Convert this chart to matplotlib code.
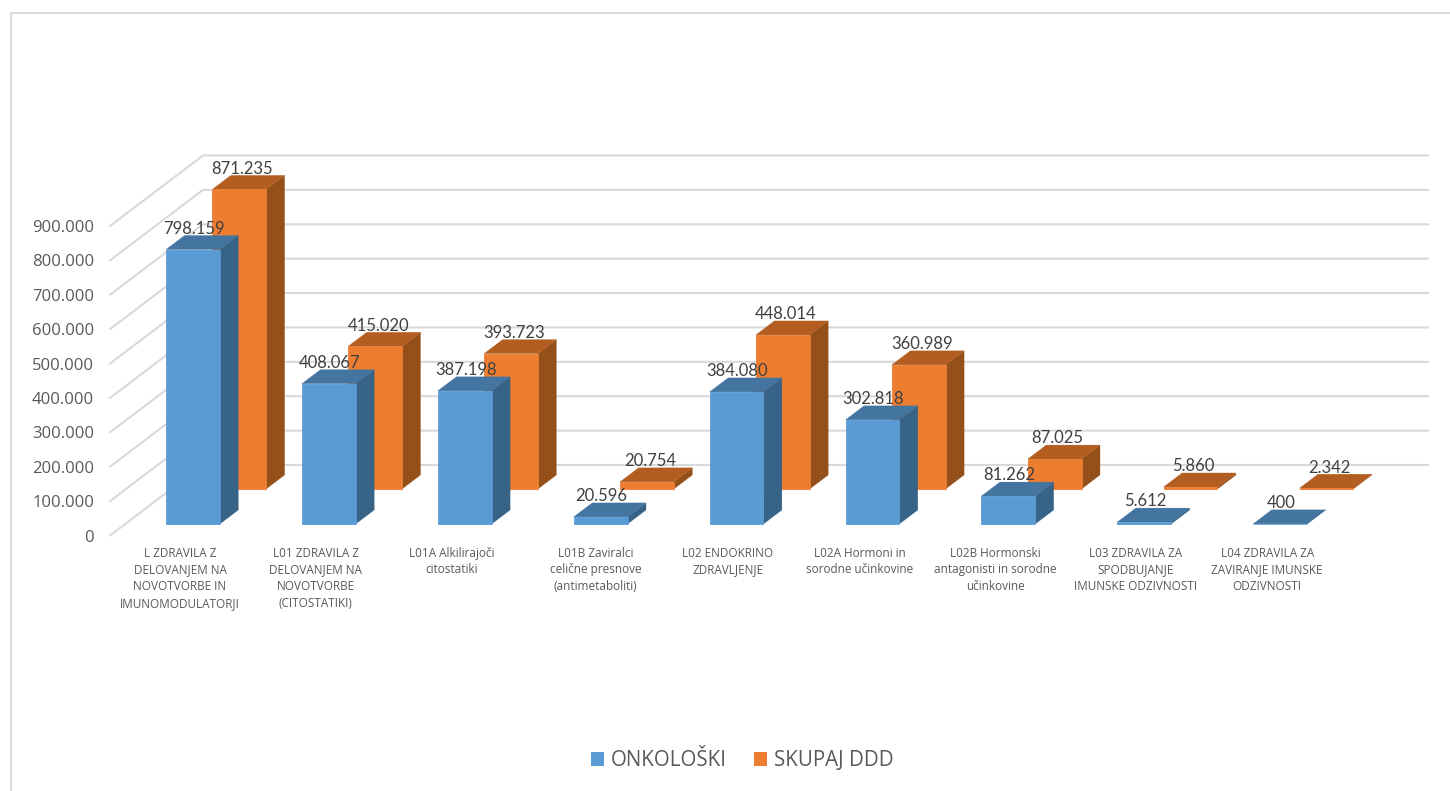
import matplotlib
matplotlib.use("Agg")
import matplotlib.pyplot as plt
from matplotlib.patches import Patch, Polygon

categories = [
    "L ZDRAVILA Z\nDELOVANJEM NA\nNOVOTVORBE IN\nIMUNOMODULATORJI",
    "L01 ZDRAVILA Z\nDELOVANJEM NA\nNOVOTVORBE\n(CITOSTATIKI)",
    "L01A Alkilirajoči\ncitostatiki",
    "L01B Zaviralci\ncelične presnove\n(antimetaboliti)",
    "L02 ENDOKRINO\nZDRAVLJENJE",
    "L02A Hormoni in\nsorodne učinkovine",
    "L02B Hormonski\nantagonisti in sorodne\nučinkovine",
    "L03 ZDRAVILA ZA\nSPODBUJANJE\nIMUNSKE ODZIVNOSTI",
    "L04 ZDRAVILA ZA\nZAVIRANJE IMUNSKE\nODZIVNOSTI",
]
onkoloski = [798159, 408067, 387198, 20596, 384080, 302818, 81262, 5612, 400]
skupaj_ddd = [871235, 415020, 393723, 20754, 448014, 360989, 87025, 5860, 2342]
y_ticks = [0, 100000, 200000, 300000, 400000, 500000, 600000, 700000, 800000, 900000]
series_names = ["ONKOLOŠKI", "SKUPAJ DDD"]

W, H = 1450, 791
AX_L, AX_R, Y0_PX, Y900_PX = 110, 1428, 535.5, 226
CAT_PX = 135.9
BLUE_LEFT_PX = 166
BAR_W_PX = 53.8
PX_PER_VAL = (Y0_PX - Y900_PX) / 900000


def fmt(v):
    return f"{v:,}".replace(",", ".")


plt.rcParams["font.family"] = ["Open Sans", "DejaVu Sans"]
fig = plt.figure(figsize=(W / 100, H / 100), dpi=100, facecolor="white")
fig.add_artist(plt.Line2D([11 / W, 11 / W, 1], [0, 1 - 13 / H, 1 - 13 / H], color="#D9D9D9", lw=1.4))

ax = fig.add_axes([AX_L / W, 1 - Y0_PX / H, (AX_R - AX_L) / W, (Y0_PX - Y900_PX) / H])
ax.set_xlim((AX_L - BLUE_LEFT_PX) / CAT_PX, (AX_R - BLUE_LEFT_PX) / CAT_PX)
ax.set_ylim(0, 900000)
ax.patch.set_visible(False)
for s in ax.spines.values():
    s.set_visible(False)


def ox(px):
    return px / CAT_PX


def oy(px):
    return px / PX_PER_VAL


# walls
wall_dx, wall_dy = 93, 70.5
x_front = ax.get_xlim()[0]
x_right = ax.get_xlim()[1]
for v in y_ticks:
    ax.plot([x_front, x_front + ox(wall_dx), x_right], [v, v + oy(wall_dy), v + oy(wall_dy)],
            color="#D9D9D9", lw=1.5, clip_on=False, zorder=1, solid_joinstyle="miter")


def bar3d(x, base, value, front, side, top, z, label_dx):
    w, dx, dy = ox(BAR_W_PX), ox(18.5), oy(14)
    t = base + value
    ax.add_patch(Polygon([(x + w, base), (x + w + dx, base + dy), (x + w + dx, t + dy), (x + w, t)],
                         fc=side, ec=side, lw=0.2, clip_on=False, zorder=z))
    ax.add_patch(Polygon([(x, t), (x + w, t), (x + w + dx, t + dy), (x + dx, t + dy)],
                         fc=top, ec=top, lw=0.2, clip_on=False, zorder=z))
    ax.add_patch(Polygon([(x, base), (x + w, base), (x + w, t), (x, t)],
                         fc=front, ec=front, lw=0.6, clip_on=False, zorder=z + 0.1))
    ax.annotate(fmt(value), (x + w / 2, t + dy), xytext=(label_dx * 0.72, 6.6 * 0.72), textcoords="offset points",
                ha="center", va="center", fontsize=12, color="#404040", zorder=20,
                annotation_clip=False, family=["Lato", "DejaVu Sans"])


for i in range(len(categories)):
    bar3d(i + ox(46.3), oy(46.5), skupaj_ddd[i], "#ED7D31", "#955019", "#B35E20", 3 + 2 * i, 3)
    bar3d(i, oy(11.5), onkoloski[i], "#5B9BD5", "#376387", "#4474A0", 4 + 2 * i, 1)

ax.set_yticks(y_ticks)
ax.set_yticklabels([fmt(v) for v in y_ticks], fontsize=12, color="#595959")
ax.tick_params(axis="y", length=0, pad=11.5)

label_offsets = [0, 0, 0, 8, 4, 0, 0, 4, 0]
ax.set_xticks([i + ox(14 + label_offsets[i]) for i in range(len(categories))])
ax.set_xticklabels(categories, fontsize=8.5, color="#595959", linespacing=1.38)
ax.tick_params(axis="x", length=0, pad=8)

handles = [Patch(fc="#5B9BD5", label=series_names[0]), Patch(fc="#ED7D31", label=series_names[1])]
fig.legend(handles=handles, loc="center", bbox_to_anchor=(742 / W, 1 - 761 / H), ncol=2, frameon=False,
           fontsize=14.8, labelcolor="#595959", handlelength=0.65, handleheight=0.65,
           handletextpad=0.33, columnspacing=1.3, borderpad=0)

fig.savefig("out.png", dpi=100, facecolor="white")
